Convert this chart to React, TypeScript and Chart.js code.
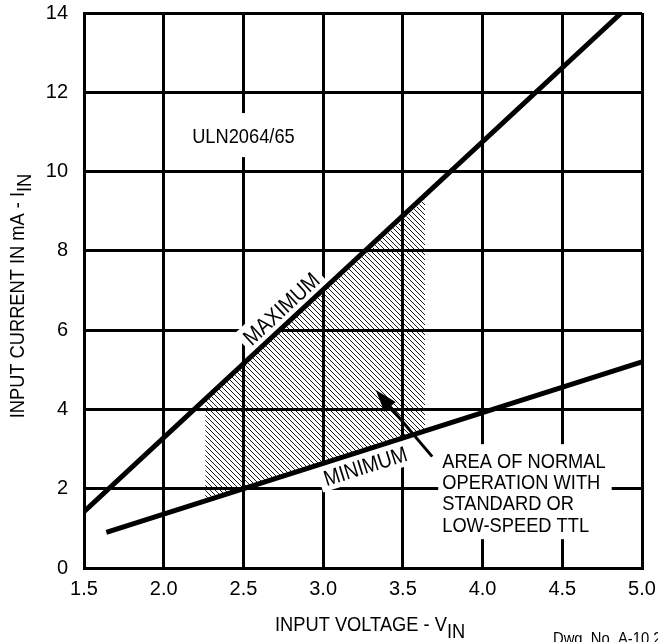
import React, { useEffect, useRef } from "react";
import { Chart, registerables } from "chart.js";

Chart.register(...registerables);

// ---- axis ranges / ticks ----
const X_MIN = 1.5;
const X_MAX = 5.0;
const X_STEP = 0.5;
const Y_MIN = 0;
const Y_MAX = 14;
const Y_STEP = 2;

// ---- curves (input voltage V, input current mA) ----
const MAX_X = [1.5, 4.87];
const MAX_Y = [1.42, 14];
const MIN_X = [1.64, 5.0];
const MIN_Y = [0.9, 5.2];

// ---- hatched normal-operation area ----
const HATCH_X = [2.26, 3.64];
const HATCH_TOP = [4.2, 9.3];
const HATCH_BOTTOM = [1.72, 3.5];

// ---- annotations ----
const PART_LABEL = "ULN2064/65";
const PART_POS = [2.5, 10.92];
const MAX_LABEL = "MAXIMUM";
const MAX_LABEL_AT = 2.8;
const MIN_LABEL = "MINIMUM";
const MIN_LABEL_AT = 3.235;
const NOTE_LINES = ["AREA OF NORMAL", "OPERATION WITH", "STANDARD OR", "LOW-SPEED TTL"];
const NOTE_POS = [3.747, 2.72];
const ARROW_FROM = [3.684, 2.81];
const ARROW_TO = [3.33, 4.49];
const X_TITLE = "INPUT VOLTAGE - V";
const X_TITLE_SUB = "IN";
const Y_TITLE = "INPUT CURRENT IN mA - I";
const Y_TITLE_SUB = "IN";
const DWG = "Dwg. No. A-10,220";

const FAMILY = "'Liberation Sans', Arial, sans-serif";
const SQUEEZE = 0.87;

function setFont(ctx: CanvasRenderingContext2D, size: number) {
  ctx.font = `${size}px ${FAMILY}`;
}
function tw(ctx: CanvasRenderingContext2D, t: string) {
  return ctx.measureText(t).width * SQUEEZE;
}
function sq(ctx: CanvasRenderingContext2D, t: string, x: number, y: number) {
  ctx.save();
  ctx.translate(x, y);
  ctx.scale(SQUEEZE, 1);
  ctx.textAlign = "left";
  ctx.textBaseline = "alphabetic";
  ctx.fillText(t, 0, 0);
  ctx.restore();
}

function makeHatch(): CanvasPattern | string {
  const c = document.createElement("canvas");
  c.width = 5;
  c.height = 5;
  const g = c.getContext("2d");
  if (!g) return "rgba(0,0,0,0.3)";
  g.strokeStyle = "#000";
  g.lineWidth = 0.9;
  for (const k of [-5, 0, 5]) {
    g.beginPath();
    g.moveTo(k, 0);
    g.lineTo(k + 5, 5);
    g.stroke();
  }
  return g.createPattern(c, "repeat") || "rgba(0,0,0,0.3)";
}

function lineLabel(
  chart: any,
  xs: number[],
  ys: number[],
  at: number,
  text: string,
  offset: number,
  size: number,
  phase: "box" | "text"
) {
  const ctx: CanvasRenderingContext2D = chart.ctx;
  const sx = chart.scales.x;
  const sy = chart.scales.y;
  const x1 = sx.getPixelForValue(xs[0]);
  const y1 = sy.getPixelForValue(ys[0]);
  const x2 = sx.getPixelForValue(xs[1]);
  const y2 = sy.getPixelForValue(ys[1]);
  const a = Math.atan2(y2 - y1, x2 - x1);
  const t = (at - xs[0]) / (xs[1] - xs[0]);
  const px = x1 + (x2 - x1) * t;
  const py = y1 + (y2 - y1) * t;
  const cx = px + Math.sin(a) * offset;
  const cy = py - Math.cos(a) * offset;
  setFont(ctx, size);
  const w = tw(ctx, text);
  const capH = size * 0.716;
  ctx.save();
  ctx.translate(cx, cy);
  ctx.rotate(a);
  if (phase === "box") {
    ctx.fillStyle = "#fff";
    ctx.fillRect(-w / 2 - 5, -capH / 2 - 5, w + 10, capH + 10);
  } else {
    ctx.fillStyle = "#000";
    sq(ctx, text, -w / 2, capH / 2);
  }
  ctx.restore();
}

const annotations = {
  id: "annotations",
  beforeDatasetsDraw(chart: any) {
    const ctx: CanvasRenderingContext2D = chart.ctx;
    const sx = chart.scales.x;
    const sy = chart.scales.y;
    ctx.save();
    setFont(ctx, 21);
    const pw = tw(ctx, PART_LABEL);
    const ppx = sx.getPixelForValue(PART_POS[0]);
    const ppy = sy.getPixelForValue(PART_POS[1]);
    ctx.fillStyle = "#fff";
    ctx.fillRect(ppx - pw / 2 - 6, ppy - 22, pw + 12, 44);
    const nx = sx.getPixelForValue(NOTE_POS[0]);
    const ny = sy.getPixelForValue(NOTE_POS[1]);
    let nw = 0;
    for (const l of NOTE_LINES) nw = Math.max(nw, tw(ctx, l));
    ctx.fillRect(nx - 4, ny - 16, nw + 10, 95);
    ctx.restore();
    lineLabel(chart, MAX_X, MAX_Y, MAX_LABEL_AT, MAX_LABEL, 15, 22.5, "box");
    lineLabel(chart, MIN_X, MIN_Y, MIN_LABEL_AT, MIN_LABEL, -15, 22, "box");
  },
  afterDatasetsDraw(chart: any) {
    const ctx: CanvasRenderingContext2D = chart.ctx;
    const sx = chart.scales.x;
    const sy = chart.scales.y;
    ctx.save();
    ctx.fillStyle = "#000";
    setFont(ctx, 21);
    const capH = 21 * 0.716;
    const pw = tw(ctx, PART_LABEL);
    sq(ctx, PART_LABEL, sx.getPixelForValue(PART_POS[0]) - pw / 2, sy.getPixelForValue(PART_POS[1]) + capH / 2);
    const nx = sx.getPixelForValue(NOTE_POS[0]);
    const ny = sy.getPixelForValue(NOTE_POS[1]);
    NOTE_LINES.forEach((l, i) => sq(ctx, l, nx, ny + capH / 2 + i * 21.3));
    // arrow
    const ax1 = sx.getPixelForValue(ARROW_FROM[0]);
    const ay1 = sy.getPixelForValue(ARROW_FROM[1]);
    const ax2 = sx.getPixelForValue(ARROW_TO[0]);
    const ay2 = sy.getPixelForValue(ARROW_TO[1]);
    const ang = Math.atan2(ay2 - ay1, ax2 - ax1);
    const hl = 22;
    const hw = 7.5;
    const bx = ax2 - Math.cos(ang) * hl;
    const by = ay2 - Math.sin(ang) * hl;
    ctx.strokeStyle = "#000";
    ctx.lineWidth = 3;
    ctx.beginPath();
    ctx.moveTo(ax1, ay1);
    ctx.lineTo(bx + Math.cos(ang) * 2, by + Math.sin(ang) * 2);
    ctx.stroke();
    ctx.beginPath();
    ctx.moveTo(ax2, ay2);
    ctx.lineTo(bx + Math.sin(ang) * hw, by - Math.cos(ang) * hw);
    ctx.lineTo(bx - Math.sin(ang) * hw, by + Math.cos(ang) * hw);
    ctx.closePath();
    ctx.fill();
    // x title
    let x0 = 275;
    sq(ctx, X_TITLE, x0, 631);
    x0 += tw(ctx, X_TITLE);
    sq(ctx, X_TITLE_SUB, x0, 637.5);
    // y title
    const wm = tw(ctx, Y_TITLE);
    const wsub = tw(ctx, Y_TITLE_SUB);
    ctx.save();
    ctx.translate(24, 296);
    ctx.rotate(-Math.PI / 2);
    const st = -(wm + wsub) / 2;
    sq(ctx, Y_TITLE, st, 0);
    sq(ctx, Y_TITLE_SUB, st + wm, 6.5);
    ctx.restore();
    // drawing number
    setFont(ctx, 17);
    sq(ctx, DWG, 553, 644);
    ctx.restore();
    lineLabel(chart, MAX_X, MAX_Y, MAX_LABEL_AT, MAX_LABEL, 15, 22.5, "text");
    lineLabel(chart, MIN_X, MIN_Y, MIN_LABEL_AT, MIN_LABEL, -15, 22, "text");
  },
};

function zeroPad(s: any) {
  s.paddingTop = 0;
  s.paddingBottom = 0;
  s.paddingLeft = 0;
  s.paddingRight = 0;
}

export default function App() {
  const ref = useRef<HTMLCanvasElement | null>(null);
  useEffect(() => {
    if (!ref.current) return;
    const toPts = (xs: number[], ys: number[]) => xs.map((x, i) => ({ x, y: ys[i] }));
    const chart = new Chart(ref.current, {
      type: "line",
      data: {
        datasets: [
          {
            label: "Maximum",
            data: toPts(MAX_X, MAX_Y),
            borderColor: "#000",
            borderWidth: 5,
            pointRadius: 0,
            fill: false,
            borderCapStyle: "butt",
          },
          {
            label: "Minimum",
            data: toPts(MIN_X, MIN_Y),
            borderColor: "#000",
            borderWidth: 5,
            pointRadius: 0,
            fill: false,
            borderCapStyle: "butt",
          },
          {
            label: "Normal area top",
            data: toPts(HATCH_X, HATCH_TOP),
            borderWidth: 0,
            borderColor: "rgba(0,0,0,0)",
            pointRadius: 0,
            backgroundColor: makeHatch() as any,
            fill: "+1",
          },
          {
            label: "Normal area bottom",
            data: toPts(HATCH_X, HATCH_BOTTOM),
            borderWidth: 0,
            borderColor: "rgba(0,0,0,0)",
            pointRadius: 0,
            fill: false,
          },
        ],
      },
      options: {
        responsive: false,
        animation: false,
        devicePixelRatio: 1,
        layout: { padding: { left: 0, right: 16, top: 13, bottom: 0 } },
        plugins: { legend: { display: false }, tooltip: { enabled: false } },
        scales: {
          x: {
            type: "linear",
            min: X_MIN,
            max: X_MAX,
            ticks: {
              stepSize: X_STEP,
              autoSkip: false,
              maxRotation: 0,
              padding: 9,
              color: "#000",
              font: { family: FAMILY, size: 20 },
              callback: (v: any) => Number(v).toFixed(1),
            },
            grid: { color: "#000", lineWidth: 3, drawTicks: false },
            border: { color: "#000", width: 3 },
            afterFit: (s: any) => {
              s.height = 74;
              zeroPad(s);
            },
          },
          y: {
            min: Y_MIN,
            max: Y_MAX,
            ticks: {
              stepSize: Y_STEP,
              padding: 16,
              color: "#000",
              font: { family: FAMILY, size: 20 },
            },
            grid: { color: "#000", lineWidth: 3, drawTicks: false },
            border: { color: "#000", width: 3 },
            afterFit: (s: any) => {
              s.width = 84;
              zeroPad(s);
            },
          },
        },
      } as any,
      plugins: [annotations],
    });
    return () => chart.destroy();
  }, []);
  return (
    <div style={{ position: "absolute", left: 0, top: 0, width: 658, height: 642, background: "#fff" }}>
      <canvas ref={ref} width={658} height={642} style={{ display: "block", width: 658, height: 642 }} />
    </div>
  );
}
